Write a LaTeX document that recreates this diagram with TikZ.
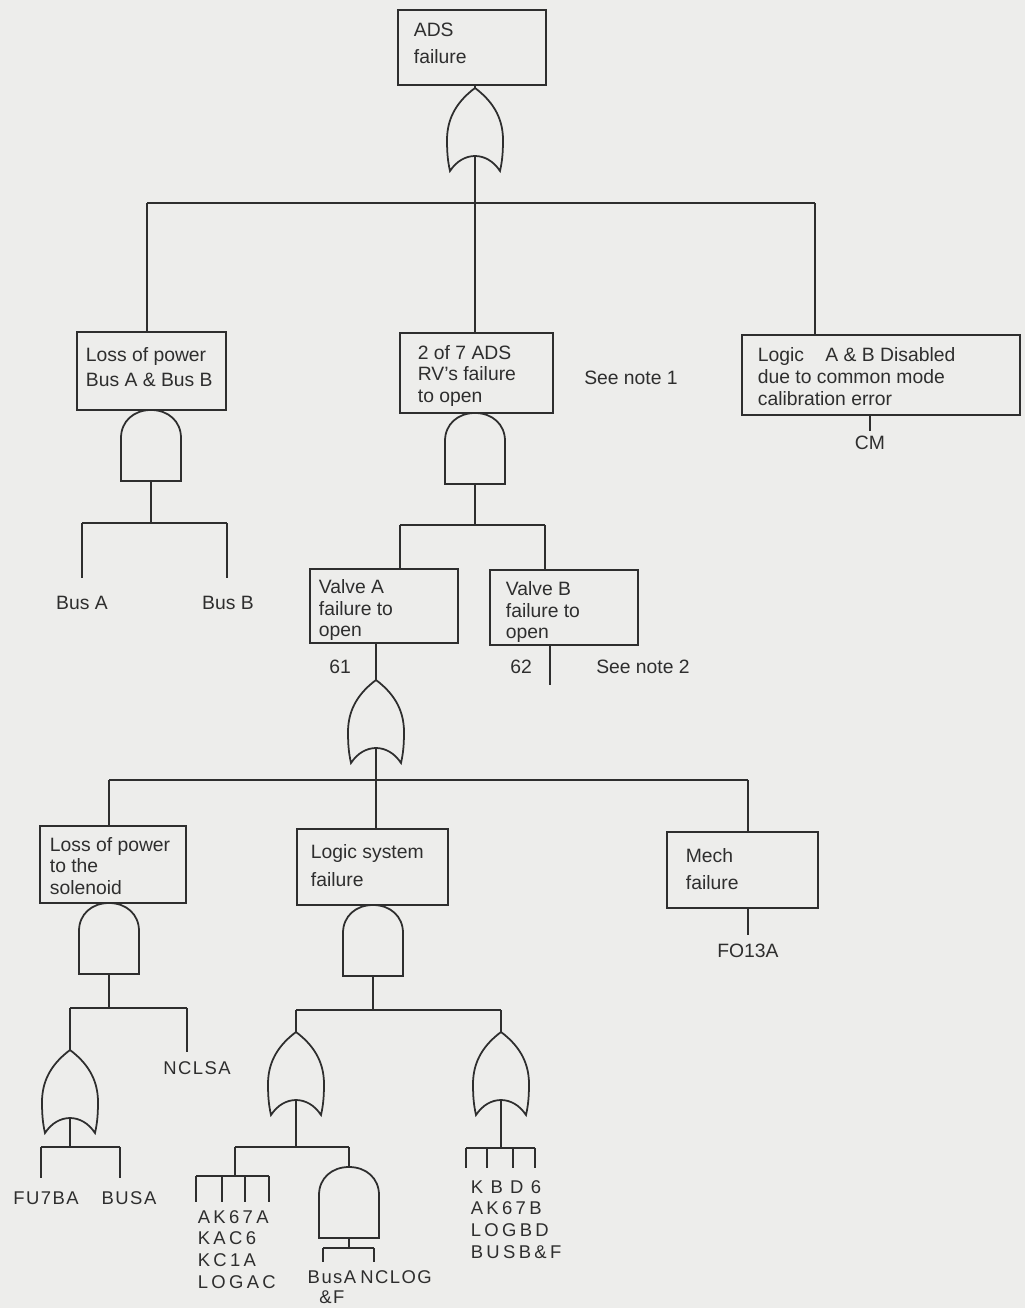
\documentclass[tikz,border=0pt]{standalone}
\usepackage{fontspec}
\setmainfont{Liberation Sans}
\newfontfamily\lsA[LetterSpace=8]{Liberation Sans}
\newfontfamily\lsB[LetterSpace=18]{Liberation Sans}
\newfontfamily\lsC[LetterSpace=40]{Liberation Sans}
\definecolor{ink}{HTML}{2E2E2E}
\definecolor{bgc}{HTML}{EDEDEB}
\tikzset{
  ebox/.style={draw=ink, rectangle, inner sep=0pt},
  btxt/.style={anchor=west, align=left, inner sep=0pt, text=ink},
  lbl/.style={inner sep=0pt, text=ink, font=\fontsize{11}{13}\selectfont},
  leaf/.style={inner sep=0pt, text=ink, align=center, font=\fontsize{10.5}{11.5}\selectfont\lsA},
  orgate/.pic={
    \draw[ink] (0,0) .. controls (-16,12) and (-28,28) .. (-28,52)
      .. controls (-28,66) and (-27,74) .. (-25,83)
      .. controls (-12,63) and (12,63) .. (25,83)
      .. controls (27,74) and (28,66) .. (28,52)
      .. controls (28,28) and (16,12) .. (0,0) -- cycle;
    \coordinate (-top) at (0,0);
    \coordinate (-bot) at (0,68);
  },
  andgate/.pic={
    \draw[ink] (-30,71) -- (-30,28) .. controls (-30,11) and (-17,0) .. (0,0)
      .. controls (17,0) and (30,11) .. (30,28) -- (30,71) -- cycle;
    \coordinate (-top) at (0,0);
    \coordinate (-bot) at (0,71);
  }
}
\begin{document}
\begin{tikzpicture}[x=0.02cm,y=-0.02cm,line width=1pt]
\fill[bgc] (0,0) rectangle (1025,1308);
\useasboundingbox (0,0) rectangle (1025,1308);

% ---------- top event ----------
\node[ebox, minimum width=2.96cm, minimum height=1.5cm] (ads) at (472,47.5) {};
\node[btxt, font=\fontsize{11}{15.4}\selectfont] (adst) at (413,43.5) {ADS\\failure};
\pic (g0) at (475,88) {orgate};
\draw[ink] (ads.south -| g0-top) -- (g0-top);
\coordinate (b0) at (475,203);
\coordinate (b0L) at (147,203);
\coordinate (b0R) at (815,203);
\draw[ink] (g0-bot) -- (b0);
\draw[ink] (b0L) -- (b0R);

% ---------- level 1 ----------
\node[ebox, minimum width=2.98cm, minimum height=1.56cm] (lp) at (151.5,371) {};
\node[ebox, minimum width=3.06cm, minimum height=1.6cm] (two) at (476.5,373) {};
\node[ebox, minimum width=5.56cm, minimum height=1.6cm] (logic) at (881,375) {};
\draw[ink] (b0L) -- (b0L |- lp.north);
\draw[ink] (b0) -- (b0 |- two.north);
\draw[ink] (b0R) -- (b0R |- logic.north);
\node[btxt, font=\fontsize{11}{14.2}\selectfont] (lpt) at (85,367.5) {Loss of power\\Bus A \& Bus B};
\node[btxt, font=\fontsize{11}{12.5}\selectfont] (twot) at (417,376) {2 of 7 ADS\\RV's failure\\to open};
\node[btxt, font=\fontsize{11}{12.5}\selectfont] (logict) at (757,377) {Logic\hspace*{1.1em}A \& B Disabled\\due to common mode\\calibration error};
\node[lbl] (sn1) at (631,378) {See note 1};
\node[lbl] (cm) at (870,443) {CM};
\coordinate (ecm) at (870,431);
\draw[ink] (logic.south -| ecm) -- (ecm);

% ---------- under Loss of power Bus A & Bus B ----------
\pic (a1) at (151,410) {andgate};
\coordinate (b1) at (151,523);
\coordinate (b1L) at (82,523);
\coordinate (b1R) at (227,523);
\coordinate (e1L) at (82,578);
\coordinate (e1R) at (227,578);
\draw[ink] (a1-bot) -- (b1);
\draw[ink] (b1L) -- (b1R);
\draw[ink] (b1L) -- (e1L);
\draw[ink] (b1R) -- (e1R);
\node[lbl] (busA) at (82,603) {Bus A};
\node[lbl] (busB) at (228,603) {Bus B};

% ---------- under 2 of 7 ----------
\pic (a2) at (475,413) {andgate};
\coordinate (b2) at (475,525);
\coordinate (b2L) at (400,525);
\coordinate (b2R) at (545,525);
\draw[ink] (a2-bot) -- (b2);
\draw[ink] (b2L) -- (b2R);
\node[ebox, minimum width=2.96cm, minimum height=1.48cm] (va) at (384,606) {};
\node[ebox, minimum width=2.96cm, minimum height=1.5cm] (vb) at (564,607.5) {};
\draw[ink] (b2L) -- (b2L |- va.north);
\draw[ink] (b2R) -- (b2R |- vb.north);
\node[btxt, font=\fontsize{11}{12}\selectfont] (vat) at (318,610) {Valve A\\failure to\\open};
\node[btxt, font=\fontsize{11}{12}\selectfont] (vbt) at (505,612) {Valve B\\failure to\\open};
\node[lbl] (n61) at (340,667) {61};
\node[lbl] (n62) at (521,667) {62};
\node[lbl] (sn2) at (643,667) {See note 2};
\coordinate (e62) at (550,685);
\draw[ink] (vb.south -| e62) -- (e62);

% ---------- under Valve A ----------
\pic (g1) at (376,680) {orgate};
\draw[ink] (va.south -| g1-top) -- (g1-top);
\coordinate (b3) at (376,780);
\coordinate (b3L) at (109,780);
\coordinate (b3R) at (748,780);
\draw[ink] (g1-bot) -- (b3);
\draw[ink] (b3L) -- (b3R);
\node[ebox, minimum width=2.92cm, minimum height=1.54cm] (ls) at (113,864.5) {};
\node[ebox, minimum width=3.02cm, minimum height=1.52cm] (lsf) at (372.5,867) {};
\node[ebox, minimum width=3.02cm, minimum height=1.52cm] (mech) at (742.5,870) {};
\draw[ink] (b3L) -- (b3L |- ls.north);
\draw[ink] (b3) -- (b3 |- lsf.north);
\draw[ink] (b3R) -- (b3R |- mech.north);
\node[btxt, font=\fontsize{11}{12.3}\selectfont] (lst) at (49,866) {Loss of power\\to the\\solenoid};
\node[btxt, font=\fontsize{11}{16}\selectfont] (lsft) at (310,866) {Logic system\\failure};
\node[btxt, font=\fontsize{11}{15}\selectfont] (mecht) at (685,869) {Mech\\failure};
\coordinate (efo) at (748,935);
\draw[ink] (mech.south -| efo) -- (efo);
\node[lbl] (fo) at (748,951) {FO13A};

% ---------- under Loss of power to the solenoid ----------
\pic (a3) at (109,903) {andgate};
\coordinate (b4) at (109,1008);
\coordinate (b4L) at (70,1008);
\coordinate (b4R) at (187,1008);
\coordinate (e4R) at (187,1052);
\draw[ink] (a3-bot) -- (b4);
\draw[ink] (b4L) -- (b4R);
\draw[ink] (b4R) -- (e4R);
\node[leaf] (nclsa) at (197,1068) {NCLSA};
\pic (g2) at (70,1050) {orgate};
\draw[ink] (b4L) -- (g2-top);
\coordinate (b5) at (70,1147);
\coordinate (b5L) at (41,1147);
\coordinate (b5R) at (120,1147);
\coordinate (e5L) at (41,1178);
\coordinate (e5R) at (120,1178);
\draw[ink] (g2-bot) -- (b5);
\draw[ink] (b5L) -- (b5R);
\draw[ink] (b5L) -- (e5L);
\draw[ink] (b5R) -- (e5R);
\node[leaf] (fu) at (46,1198) {FU7BA};
\node[leaf] (busa) at (129,1198) {BUSA};

% ---------- under Logic system failure ----------
\pic (a4) at (373,905) {andgate};
\coordinate (b6) at (373,1010);
\coordinate (b6L) at (296,1010);
\coordinate (b6R) at (501,1010);
\draw[ink] (a4-bot) -- (b6);
\draw[ink] (b6L) -- (b6R);
\pic (g3) at (296,1032) {orgate};
\pic (g4) at (501,1032) {orgate};
\draw[ink] (b6L) -- (g3-top);
\draw[ink] (b6R) -- (g4-top);

% left OR
\coordinate (b7) at (296,1147);
\coordinate (b7L) at (235,1147);
\coordinate (b7R) at (349,1147);
\draw[ink] (g3-bot) -- (b7);
\draw[ink] (b7L) -- (b7R);
\coordinate (b8) at (235,1176);
\coordinate (b8L) at (196,1176);
\coordinate (b8a) at (222,1176);
\coordinate (b8b) at (245,1176);
\coordinate (b8R) at (269,1176);
\coordinate (e8L) at (196,1202);
\coordinate (e8a) at (222,1202);
\coordinate (e8b) at (245,1202);
\coordinate (e8R) at (269,1202);
\draw[ink] (b7L) -- (b8);
\draw[ink] (b8L) -- (b8R);
\draw[ink] (b8L) -- (e8L);
\draw[ink] (b8a) -- (e8a);
\draw[ink] (b8b) -- (e8b);
\draw[ink] (b8R) -- (e8R);
\node[btxt, font=\fontsize{10.5}{12.4}\selectfont\lsB] (ak) at (197,1249.5) {AK67A\\KAC6\\KC1A\\LOGAC};

\pic (a5) at (349,1167) {andgate};
\draw[ink] (b7R) -- (a5-top);
\coordinate (b9) at (349,1248);
\coordinate (b9L) at (323,1248);
\coordinate (b9R) at (374,1248);
\coordinate (e9L) at (323,1262);
\coordinate (e9R) at (374,1262);
\draw[ink] (a5-bot) -- (b9);
\draw[ink] (b9L) -- (b9R);
\draw[ink] (b9L) -- (e9L);
\draw[ink] (b9R) -- (e9R);
\node[leaf] (busaf) at (332,1287) {BusA\\\&F};
\node[leaf] (nclog) at (396,1277) {NCLOG};

% right OR
\coordinate (b10) at (501,1148);
\coordinate (b10L) at (466,1148);
\coordinate (b10a) at (487,1148);
\coordinate (b10b) at (513,1148);
\coordinate (b10R) at (535,1148);
\coordinate (e10L) at (466,1168);
\coordinate (e10a) at (487,1168);
\coordinate (e10b) at (513,1168);
\coordinate (e10R) at (535,1168);
\draw[ink] (g4-bot) -- (b10);
\draw[ink] (b10L) -- (b10R);
\draw[ink] (b10L) -- (e10L);
\draw[ink] (b10a) -- (e10a);
\draw[ink] (b10b) -- (e10b);
\draw[ink] (b10R) -- (e10R);
\node[btxt, font=\fontsize{10.5}{12.4}\selectfont\lsB] (kb) at (470,1219.5) {{\lsC KBD6}\\AK67B\\LOGBD\\BUSB\&F};
\end{tikzpicture}
\end{document}
